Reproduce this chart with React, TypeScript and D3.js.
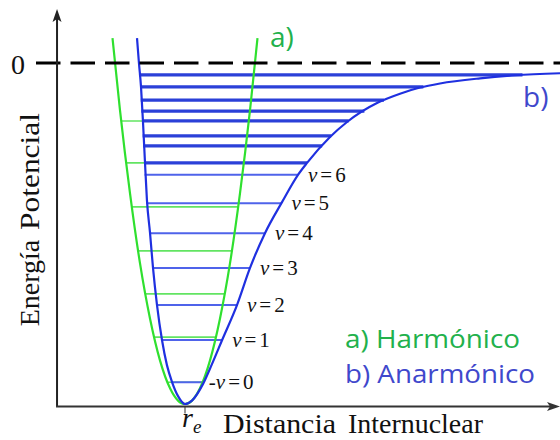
import React from "react";
import * as d3 from "d3";

const W = 560;
const H = 440;

// Anharmonic (Morse-type) potential: internuclear distance r and energy E
const morseR = [0.628, 0.643, 0.659, 0.674, 0.690, 0.705, 0.729, 0.752, 0.783, 0.822, 0.860, 0.899, 0.946, 1.0, 1.054, 1.140, 1.209, 1.287, 1.403, 1.504, 1.620, 1.752, 1.876, 1.946, 2.124, 2.256, 2.496, 2.667, 2.822, 2.977, 3.287, 3.558, 3.907];
const morseE = [0.73, 0, -0.70, -1.70, -2.93, -4.02, -4.99, -6.01, -7.10, -8.13, -8.86, -9.35, -9.77, -10, -9.90, -9.41, -8.83, -8.13, -7.10, -6.01, -4.99, -4.08, -3.28, -2.93, -2.17, -1.73, -1.16, -0.90, -0.72, -0.60, -0.45, -0.36, -0.30];

// Harmonic potential
const harmR = [0.438, 0.496, 0.574, 0.651, 0.729, 0.806, 0.884, 0.946, 1.0, 1.054, 1.116, 1.194, 1.271, 1.349, 1.426, 1.504, 1.562];
const harmE = [0.73, -1.38, -3.83, -5.87, -7.50, -8.72, -9.54, -9.90, -10, -9.90, -9.54, -8.72, -7.50, -5.87, -3.83, -1.38, 0.73];

// Vibrational energy levels
const harmLevels = [-9.36, -8.04, -6.77, -5.51, -4.22, -2.93, -1.70];
const morseLevels = [-9.36, -8.12, -7.10, -6.01, -4.99, -4.11, -3.28, -2.93, -2.43, -2.14, -1.70, -1.41, -1.09, -0.70, -0.35];
const levelLabels = ["0", "1", "2", "3", "4", "5", "6"];

const GREEN = "#2fe02f";
const GREEN_LEVEL = "#62e462";
const GREEN_TEXT = "#22b14c";
const BLUE = "#1f30e0";
const BLUE_THIN = "#4f63ea";
const BLUE_THICK = "#2b40d8";
const BLUE_TEXT = "#3f48cc";
const SERIF = "'Liberation Serif', 'Times New Roman', serif";
const SANS = "'Open Sans', 'Noto Sans', sans-serif";

function crossings(rs: number[], es: number[], e: number): [number, number] {
  const hits: number[] = [];
  for (let i = 0; i < rs.length - 1; i++) {
    const e0 = es[i];
    const e1 = es[i + 1];
    if ((e0 - e) * (e1 - e) <= 0 && e0 !== e1) {
      const t = (e - e0) / (e1 - e0);
      hits.push(rs[i] + t * (rs[i + 1] - rs[i]));
    }
  }
  const left = hits[0];
  const right = hits.length > 1 ? hits[hits.length - 1] : rs[rs.length - 1];
  return [left, right];
}

export default function App() {
  const x = d3.scaleLinear().domain([0, 3.9]).range([56, 559.1]);
  const y = d3.scaleLinear().domain([-10, 0]).range([404, 63]);

  const line = d3
    .line<[number, number]>()
    .x((d) => x(d[0]))
    .y((d) => y(d[1]))
    .curve(d3.curveMonotoneX);

  const morsePts = morseR.map((r, i) => [r, morseE[i]] as [number, number]);
  const harmPts = harmR.map((r, i) => [r, harmE[i]] as [number, number]);

  const axisX = x(0.008);
  const axisY = 406.5;
  const rE = 1.0;

  return (
    <svg
      width={W}
      height={H}
      viewBox={`0 0 ${W} ${H}`}
      style={{ position: "absolute", left: 0, top: 0, background: "#fff" }}
    >
      {/* harmonic levels */}
      {harmLevels.map((e, i) => {
        const [l, r] = crossings(harmR, harmE, e);
        return (
          <line key={"h" + i} x1={x(l)} x2={x(r)} y1={y(e)} y2={y(e)} stroke={GREEN_LEVEL} strokeWidth={1.6} />
        );
      })}

      {/* anharmonic levels */}
      {morseLevels.map((e, i) => {
        const [l, r] = crossings(morseR, morseE, e);
        const labelled = i < levelLabels.length;
        return (
          <line
            key={"m" + i}
            x1={x(l) - 1}
            x2={x(r)}
            y1={y(e)}
            y2={y(e)}
            stroke={labelled ? BLUE_THIN : BLUE_THICK}
            strokeWidth={labelled ? 2 : 3.2}
          />
        );
      })}

      {/* potential curves */}
      <path d={line(harmPts) ?? ""} fill="none" stroke={GREEN} strokeWidth={2.2} />
      <path d={line(morsePts) ?? ""} fill="none" stroke={BLUE} strokeWidth={2.2} />

      {/* zero-energy reference */}
      <line x1={36} x2={W} y1={y(0)} y2={y(0)} stroke="#000" strokeWidth={3} strokeDasharray="24.5 10" />

      {/* axes */}
      <line x1={axisX} x2={axisX} y1={16} y2={axisY} stroke="#222" strokeWidth={2} />
      <path d={`M${axisX},9 L${axisX + 4.5},22 L${axisX},19 L${axisX - 4.5},22 Z`} fill="#222" />
      <line x1={axisX - 1} x2={553} y1={axisY} y2={axisY} stroke="#333" strokeWidth={2} />
      <path d={`M560,${axisY} L547,${axisY - 4.5} L550,${axisY} L547,${axisY + 4.5} Z`} fill="#333" />
      <line x1={x(rE)} x2={x(rE)} y1={axisY} y2={axisY + 7} stroke="#333" strokeWidth={1} />

      {/* level labels */}
      {levelLabels.map((lab, i) => {
        const e = morseLevels[i];
        const [, r] = crossings(morseR, morseE, e);
        const first = i === 0;
        return (
          <text
            key={"l" + i}
            x={x(r) + (first ? 5 : 10)}
            y={y(e) + 7}
            fontFamily={SERIF}
            fontSize={21}
            fill="#111"
          >
            {first ? <tspan>-</tspan> : null}
            <tspan fontStyle="italic">v</tspan>
            <tspan dx={3}>=</tspan>
            <tspan dx={3}>{lab}</tspan>
          </text>
        );
      })}

      {/* axis labels */}
      <text x={11} y={74} fontFamily={SERIF} fontSize={28} fill="#111">0</text>
      <text
        transform="translate(39,283) rotate(-90)"
        textAnchor="middle"
        fontFamily={SERIF}
        fontSize={28}
        fill="#111"
      >
        Energía
      </text>
      <text
        transform="translate(39,171.5) rotate(-90)"
        textAnchor="middle"
        fontFamily={SERIF}
        fontSize={28}
        fill="#111"
        textLength={117}
        lengthAdjust="spacingAndGlyphs"
      >
        Potencial
      </text>
      <text x={x(rE) - 3} y={427} fontFamily={SERIF} fontSize={28} fontStyle="italic" fill="#111">r</text>
      <text x={x(rE) + 8} y={433} fontFamily={SERIF} fontSize={19} fontStyle="italic" fill="#111">e</text>
      <text x={223} y={433} fontFamily={SERIF} fontSize={27} fill="#111" textLength={113} lengthAdjust="spacingAndGlyphs">
        Distancia
      </text>
      <text x={348} y={433} fontFamily={SERIF} fontSize={27} fill="#111" textLength={135} lengthAdjust="spacingAndGlyphs">
        Internuclear
      </text>

      {/* curve tags and legend */}
      <text x={270} y={47} fontFamily={SANS} fontSize={28} fill={GREEN_TEXT}>a)</text>
      <text x={523} y={107} fontFamily={SANS} fontSize={28} fill={BLUE_TEXT}>b)</text>
      <text x={345} y={348} fontFamily={SANS} fontSize={25} fill={GREEN_TEXT} textLength={175} lengthAdjust="spacingAndGlyphs">
        a) Harmónico
      </text>
      <text x={345} y={383} fontFamily={SANS} fontSize={25} fill={BLUE_TEXT} textLength={190} lengthAdjust="spacingAndGlyphs">
        b) Anarmónico
      </text>
    </svg>
  );
}
